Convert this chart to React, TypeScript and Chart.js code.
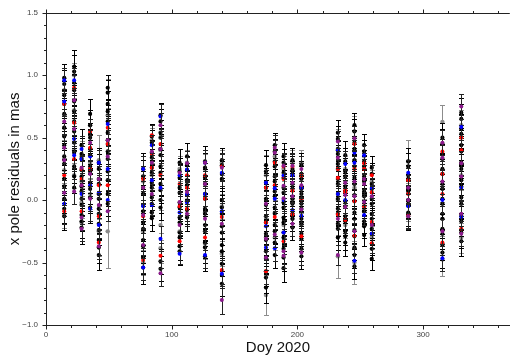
import { useEffect, useRef } from "react";
import { Chart, registerables } from "chart.js";
Chart.register(...registerables);

// Day of year for each observing week
const days = [14.5, 22.4, 28.3, 35.1, 42.0, 49.1, 77.3, 84.2, 91.1, 106.3, 112.2, 126.5, 139.9, 175.0, 182.0, 189.0, 196.1, 203.2, 232.2, 238.1, 245.4, 253.1, 259.2, 288.2, 315.4, 330.4];

// residuals (mas), one inner list per day
const blackVals = [
  [0.98, 0.93, 0.84, 0.77, 0.69, 0.58, 0.51, 0.44, 0.35, 0.29, 0.17, 0.11, 0.01, -0.07, -0.13],
  [1.07, 1.03, 0.94, 0.88, 0.79, 0.71, 0.63, 0.55, 0.46, 0.38, 0.27, 0.19, 0.1],
  [0.44, 0.37, 0.33, 0.24, 0.19, 0.11, 0.07, 0.01, -0.04, -0.12, -0.17, -0.22],
  [0.69, 0.6, 0.53, 0.5, 0.41, 0.36, 0.27, 0.23, 0.14, 0.09, 0.02, -0.06],
  [0.3, 0.25, 0.17, 0.13, 0.05, 0.01, -0.07, -0.11, -0.19, -0.24, -0.32, -0.38, -0.44],
  [0.9, 0.86, 0.77, 0.71, 0.63, 0.54, 0.48, 0.39, 0.33, 0.23, 0.16, 0.05, -0.03],
  [0.25, 0.19, 0.1, 0.05, -0.04, -0.09, -0.18, -0.23, -0.32, -0.37, -0.46, -0.54],
  [0.51, 0.46, 0.38, 0.34, 0.26, 0.22, 0.14, 0.1, 0.02, -0.03, -0.1, -0.145],
  [0.68, 0.63, 0.54, 0.5, 0.41, 0.36, 0.27, 0.22, 0.13, 0.08, 0.0, -0.06, -0.49, -0.55],
  [0.3, 0.23, 0.18, 0.1, 0.06, -0.02, -0.06, -0.14, -0.18, -0.26, -0.3, -0.37, -0.41],
  [0.35, 0.28, 0.24, 0.16, 0.12, 0.04, -0.01, -0.08, -0.14],
  [0.31, 0.26, 0.18, 0.13, 0.05, 0.01, -0.07, -0.11, -0.2, -0.25, -0.34, -0.38, -0.45],
  [0.32, 0.28, 0.21, 0.17, 0.0, -0.06, -0.11, -0.21, -0.26, -0.36, -0.41, -0.51, -0.6, -0.67],
  [0.28, 0.23, 0.14, 0.1, 0.01, -0.04, -0.13, -0.18, -0.27, -0.32, -0.41, -0.47, -0.57, -0.62, -0.7],
  [0.44, 0.39, 0.31, 0.27, 0.19, 0.15, 0.07, 0.03, -0.06, -0.11, -0.2, -0.25, -0.34, -0.44],
  [0.35, 0.3, 0.22, 0.18, 0.1, 0.06, -0.02, -0.06, -0.14, -0.18, -0.26, -0.3, -0.39, -0.46, -0.545],
  [0.32, 0.25, 0.21, 0.13, 0.09, 0.01, -0.03, -0.11, -0.15, -0.22],
  [0.28, 0.21, 0.17, 0.09, 0.05, -0.03, -0.07, -0.15, -0.19, -0.27, -0.31, -0.39, -0.45],
  [0.54, 0.49, 0.41, 0.37, 0.29, 0.25, 0.17, 0.13, 0.05, 0.01, -0.07, -0.11, -0.19, -0.23, -0.3],
  [0.36, 0.31, 0.23, 0.19, 0.11, 0.07, -0.01, -0.05, -0.13, -0.17, -0.25, -0.29, -0.34],
  [0.6, 0.55, 0.46, 0.41, 0.32, 0.27, 0.18, 0.13, 0.04, -0.01, -0.1, -0.15, -0.24, -0.29, -0.38, -0.44, -0.53],
  [0.44, 0.39, 0.31, 0.27, 0.19, 0.15, 0.07, 0.03, -0.05, -0.09, -0.17, -0.21, -0.28],
  [0.26, 0.21, 0.13, 0.09, 0.01, -0.03, -0.11, -0.15, -0.23, -0.27, -0.35, -0.39, -0.47],
  [0.31, 0.27, 0.2, 0.17, 0.1, 0.07, 0.0, -0.03, -0.1, -0.13],
  [0.5, 0.45, 0.37, 0.33, 0.25, 0.21, 0.13, 0.09, 0.01, -0.03, -0.11, -0.15, -0.23, -0.27, -0.36, -0.42],
  [0.7, 0.65, 0.57, 0.53, 0.44, 0.39, 0.3, 0.25, 0.16, 0.11, 0.02, -0.03, -0.12, -0.17, -0.26, -0.33],
];
const grayVals = [
  [0.88, 0.58, 0.24, -0.12], [1.0, 0.72, 0.4, 0.2], [0.35, 0.15, -0.02, -0.18], [0.6, 0.3, 0.05],
  [0.32, 0.05, -0.25], [0.68, 0.45, -0.25], [0.15, -0.25, -0.5], [0.48, 0.2, -0.1],
  [0.4, -0.2, -0.385], [0.25, -0.25], [0.3, 0.0], [0.25, -0.1, -0.35],
  [0.3, -0.05, -0.43], [0.2, -0.3, -0.76], [0.35, -0.1, -0.3], [0.25, -0.2],
  [0.3, 0.0, -0.15], [0.3, -0.2], [0.4, 0.0, -0.45], [0.25, -0.2],
  [0.5, 0.1, -0.5], [0.35, -0.08], [0.15, -0.3], [0.31, 0.0],
  [0.625, -0.15, -0.475], [0.6, 0.2, -0.3],
];
const redVals = [
  [0.77, 0.2, -0.09], [0.9, 0.62, 0.33], [0.25, 0.17, -0.09], [0.55, 0.42, 0.25],
  [0.12, -0.13, -0.34], [0.58, 0.45, 0.12], [0.17, -0.13, -0.48], [0.52, 0.37, 0.26],
  [0.45, 0.2, -0.445], [0.13, -0.05, -0.33], [0.2, 0.1, -0.07], [0.2, 0.01, -0.3],
  [0.27, -0.135, -0.56], [0.1, -0.18, -0.57], [0.3, 0.12, -0.135], [0.27, 0.17, -0.33],
  [0.27, 0.075, -0.115], [0.195, 0.005, -0.29], [0.25, 0.18, -0.115], [0.08, 0.063, -0.16],
  [0.45, 0.25, -0.01, -0.285], [0.295, 0.25, -0.05], [0.2, 0.063, -0.175, -0.345], [0.16, 0.05, -0.125],
  [0.39, 0.21, 0.05, -0.34], [0.5, 0.4, -0.23],
];
const blueVals = [
  [0.96, 0.79, -0.03], [0.96, 0.49, 0.36], [0.41, 0.33, 0.05], [0.35, 0.12, -0.07],
  [0.3, 0.06, -0.2], [0.61, 0.25, 0.0], [0.25, -0.05, -0.54], [0.44, 0.16, -0.04],
  [0.67, 0.1, -0.31], [0.2, -0.1, -0.43], [0.245, 0.05, -0.02], [0.3, 0.05, -0.44],
  [0.22, -0.09, -0.59], [0.14, -0.21, -0.38], [0.095, 0.01, -0.385], [0.2, 0.0, -0.26],
  [0.2, -0.08], [0.1, -0.125], [0.4, 0.05], [0.29, 0.0],
  [0.38, 0.3, -0.485], [0.36, -0.12], [0.1, -0.27], [0.22, -0.05],
  [0.0, -0.465], [0.585, 0.1, -0.135],
];
const purpleVals = [
  [0.63, 0.42, 0.32, 0.06], [0.8, 0.57, 0.07], [0.26, 0.12, -0.14, -0.23], [0.46, 0.21, 0.01],
  [0.17, -0.04, -0.37], [0.48, 0.35, -0.09], [0.1, -0.12, -0.36], [0.39, 0.3, 0.05],
  [0.6, 0.41, -0.585], [0.22, -0.015, -0.2], [0.295, 0.065, -0.11], [0.3, 0.13, -0.15],
  [0.26, -0.19, -0.8], [-0.03, -0.31, -0.46], [0.42, 0.38, -0.275], [0.275, 0.115, 0.015, -0.41, -0.445],
  [0.275, 0.14, 0.03, -0.19], [0.25, 0.12, -0.075, -0.42], [0.47, 0.34, -0.15, -0.44], [0.14, 0.04, -0.055],
  [0.495, 0.15, 0.03, -0.25], [0.17, 0.13, -0.016], [0.03, -0.2], [0.1, 0.0, -0.13],
  [0.46, 0.34, 0.15, -0.25], [0.75, 0.295, 0.19, -0.11, -0.27],
];

// 1-sigma uncertainties (mas) per day
const blackErr = [0.11, 0.13, 0.13, 0.12, 0.12, 0.1, 0.13, 0.1, 0.1, 0.11, 0.11, 0.12, 0.1, 0.12, 0.1, 0.11, 0.1, 0.1, 0.1, 0.11, 0.1, 0.09, 0.09, 0.11, 0.12, 0.12];
const grayErr = [0.1, 0.1, 0.12, 0.12, 0.2, 0.29, 0.1, 0.1, 0.12, 0.1, 0.1, 0.12, 0.1, 0.16, 0.1, 0.1, 0.1, 0.1, 0.17, 0.1, 0.17, 0.09, 0.09, 0.17, 0.135, 0.12];
const colorErr = [0.1, 0.1, 0.1, 0.1, 0.1, 0.08, 0.1, 0.08, 0.1, 0.08, 0.1, 0.1, 0.11, 0.1, 0.1, 0.1, 0.1, 0.1, 0.08, 0.1, 0.1, 0.08, 0.08, 0.1, 0.1, 0.1];

const xMajorTicks = [0, 100, 200, 300];
const yMajorTicks = [-1.0, -0.5, 0.0, 0.5, 1.0, 1.5];

const FONT = "'Liberation Sans', Arial, Helvetica, sans-serif";

function buildPoints(vals: number[][], errs: number[]) {
  return days.flatMap((d, i) => vals[i].map((v) => ({ x: d, y: v, e: errs[i] })));
}

const errorBarPlugin = {
  id: "errorBars",
  beforeDatasetDraw(chart: any, args: any) {
    const ds = chart.data.datasets[args.index];
    const meta = args.meta;
    const ys = chart.scales.y;
    const ctx = chart.ctx;
    ctx.save();
    ctx.strokeStyle = ds.barColor;
    ctx.lineWidth = 1;
    ctx.beginPath();
    meta.data.forEach((el: any, i: number) => {
      const p = ds.data[i];
      const x = Math.round(el.x) + 0.5;
      const yt = Math.round(ys.getPixelForValue(p.y + p.e)) + 0.5;
      const yb = Math.round(ys.getPixelForValue(p.y - p.e)) + 0.5;
      ctx.moveTo(x, yt);
      ctx.lineTo(x, yb);
      ctx.moveTo(x - 2.5, yt);
      ctx.lineTo(x + 2.5, yt);
      ctx.moveTo(x - 2.5, yb);
      ctx.lineTo(x + 2.5, yb);
    });
    ctx.stroke();
    ctx.restore();
  },
};

const framePlugin = {
  id: "frame",
  afterDraw(chart: any) {
    const { ctx, chartArea } = chart;
    const xs = chart.scales.x;
    const ys = chart.scales.y;
    ctx.save();
    ctx.strokeStyle = "#222";
    ctx.lineWidth = 1;
    ctx.beginPath();
    const top = Math.round(chartArea.top) + 0.5;
    const bottom = Math.round(chartArea.bottom) + 0.5;
    const left = Math.round(chartArea.left) + 0.5;
    ctx.moveTo(left, top);
    ctx.lineTo(chartArea.right, top);
    for (let v = 0; v <= xs.max; v += 20) {
      const px = Math.round(xs.getPixelForValue(v)) + 0.5;
      const len = v % 100 === 0 ? 4 : 2.5;
      ctx.moveTo(px, bottom);
      ctx.lineTo(px, bottom + len);
      ctx.moveTo(px, top);
      ctx.lineTo(px, top - len);
    }
    for (let k = -10; k <= 15; k++) {
      const v = k / 10;
      const py = Math.round(ys.getPixelForValue(v)) + 0.5;
      const len = k % 5 === 0 ? 4 : 2.5;
      ctx.moveTo(left, py);
      ctx.lineTo(left - len, py);
    }
    ctx.stroke();
    ctx.restore();
  },
};

export default function App() {
  const ref = useRef<HTMLCanvasElement | null>(null);
  useEffect(() => {
    document.body.style.margin = "0";
    if (!ref.current) return;
    const mk = (label: string, vals: number[][], errs: number[], color: string, bar: string, r: number) => ({
      label,
      data: buildPoints(vals, errs),
      backgroundColor: color,
      borderColor: color,
      borderWidth: 0,
      pointRadius: r,
      pointHoverRadius: r,
      barColor: bar,
      showLine: false,
    });
    const chart = new Chart(ref.current, {
      type: "scatter",
      data: {
        datasets: [
          mk("purple", purpleVals, colorErr, "#8b1a8b", "#222", 2),
          mk("blue", blueVals, colorErr, "#0000ff", "#222", 2),
          mk("red", redVals, colorErr, "#ff0000", "#222", 2),
          mk("black", blackVals, blackErr, "#000000", "#000000", 2.1),
          mk("gray", grayVals, grayErr, "#8c8c8c", "#8c8c8c", 2.2),
        ] as any,
      },
      options: {
        animation: false,
        responsive: false,
        events: [],
        layout: { padding: { top: 9, right: 0, left: 0, bottom: 0 } },
        plugins: { legend: { display: false }, tooltip: { enabled: false } },
        scales: {
          x: {
            type: "linear",
            position: "bottom",
            min: 0,
            max: 369,
            grid: { display: false, drawTicks: false },
            border: { display: true, color: "#222", width: 1 },
            ticks: { padding: 5, color: "#444", font: { family: FONT, size: 8 }, maxRotation: 0, autoSkip: false },
            afterBuildTicks: (s: any) => {
              s.ticks = xMajorTicks.map((v) => ({ value: v }));
            },
            afterFit: (s: any) => {
              s.height = 35;
            },
            title: { display: true, text: "Doy 2020", color: "#111", font: { family: FONT, size: 15 }, padding: { top: 0, bottom: 3 } },
          },
          y: {
            type: "linear",
            min: -1.0,
            max: 1.5,
            grid: { display: false, drawTicks: false },
            border: { display: true, color: "#222", width: 1 },
            ticks: {
              padding: 8,
              color: "#444",
              font: { family: FONT, size: 8 },
              callback: (v: any) => (Number(v) < 0 ? "\u2212" + Math.abs(Number(v)).toFixed(1) : Number(v).toFixed(1)),
            },
            afterBuildTicks: (s: any) => {
              s.ticks = yMajorTicks.map((v) => ({ value: v }));
            },
            afterFit: (s: any) => {
              s.width = 46;
            },
            title: { display: true, text: "x pole residuals in mas", color: "#111", font: { family: FONT, size: 15 }, padding: { top: 6, bottom: 0 } },
          },
        },
      },
      plugins: [errorBarPlugin, framePlugin],
    });
    return () => chart.destroy();
  }, []);
  return <canvas ref={ref} width={512} height={360} style={{ display: "block", width: 512, height: 360 }} />;
}
